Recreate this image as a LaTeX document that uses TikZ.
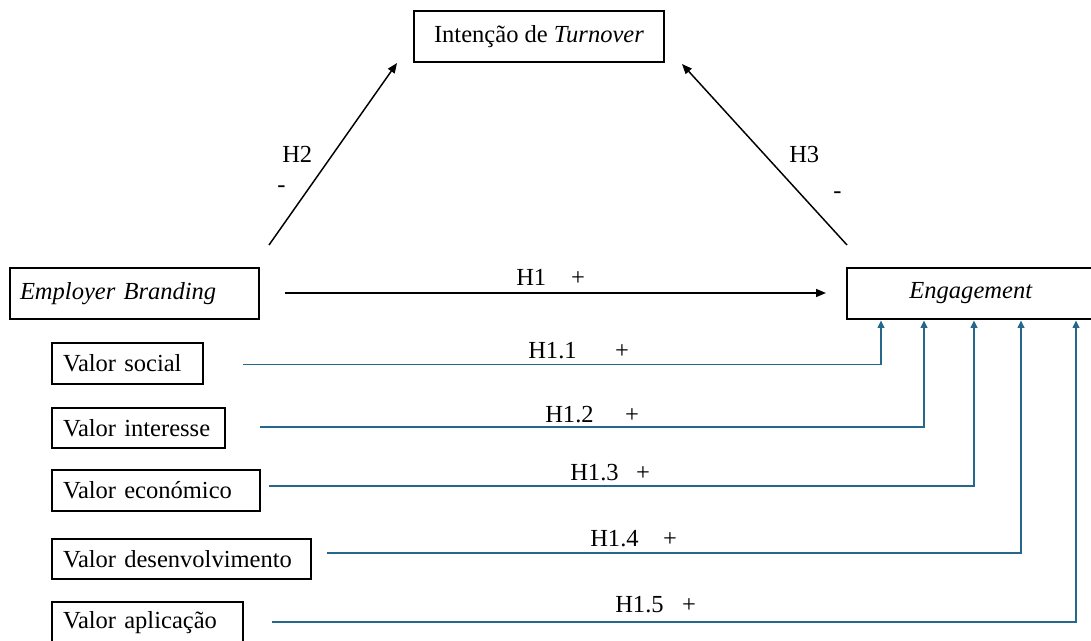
\documentclass[tikz,border=0pt]{standalone}
\usepackage{fontspec}
\setmainfont{Liberation Serif}
\usetikzlibrary{arrows.meta}
\definecolor{linkblue}{RGB}{37,104,140}
\tikzset{
  txt/.style={font=\fontsize{18.4}{22}\selectfont},
  box/.style={txt, draw=black, line width=1.3pt, inner ysep=0pt},
  lbox/.style={box, align=left, inner xsep={11*0.75pt}},
  lab/.style={txt, inner sep=0pt},
  blackarrow/.style={line width=1.1pt, -{Triangle[length=7.5pt,width=6pt]}},
  bluearrow/.style={draw=linkblue, line width=1.1pt, -{Triangle[length=5.5pt,width=5pt]}, color=linkblue},
}
\begin{document}
\begin{tikzpicture}[x=0.75pt, y=-0.75pt]
\useasboundingbox (0,0) rectangle (1091,641);
\clip (0,0) rectangle (1091,641);

% main boxes
\node[box, minimum width={250*0.75pt}, minimum height={51*0.75pt}] (T) at (539,36.5) {Intenção de \textit{Turnover}};
\node[box, align=left, inner xsep={10*0.75pt}, text width={229*0.75pt}, minimum height={51*0.75pt}] (EB) at (134.5,293.5) {\textit{Employer Branding}};
\node[box, minimum width={248*0.75pt}, minimum height={51*0.75pt}] (E) at (971,293.5) {\textit{Engagement}};

% value boxes
\node[lbox, text width={(151-22)*0.75pt}, minimum height={41*0.75pt}] (V1) at (127.5,363.5) {Valor social};
\node[lbox, text width={(173-22)*0.75pt}, minimum height={40*0.75pt}] (V2) at (138.5,428) {Valor interesse};
\node[lbox, text width={(208-22)*0.75pt}, minimum height={41*0.75pt}] (V3) at (156,490.5) {Valor económico};
\node[lbox, text width={(259-22)*0.75pt}, minimum height={40*0.75pt}] (V4) at (181.5,559) {Valor desenvolvimento};
\node[lbox, text width={(191-22)*0.75pt}, minimum height={41*0.75pt}] (V5) at (147.5,622.5) {Valor aplicação};

% connector end points
\coordinate (h2s) at (269,245);
\coordinate (h2e) at (397,63);
\coordinate (h3s) at (847,245);
\coordinate (h3e) at (682,64);
\coordinate (h1s) at (285,293);
\coordinate (h1e) at (826,293);
\coordinate (b1s) at (243,364.5);
\coordinate (b2s) at (260,427);
\coordinate (b3s) at (269,486);
\coordinate (b4s) at (327,553);
\coordinate (b5s) at (272,622);
\coordinate (b1e) at (881,320.5);
\coordinate (b2e) at (924,320.5);
\coordinate (b3e) at (974,320.5);
\coordinate (b4e) at (1021,320.5);
\coordinate (b5e) at (1076,320.5);

% black arrows
\draw[blackarrow] (h2s) -- (h2e);
\draw[blackarrow] (h3s) -- (h3e);
\draw[blackarrow] (h1s) -- (h1e);

% blue arrows
\draw[bluearrow] (b1s) -| (b1e);
\draw[bluearrow] (b2s) -| (b2e);
\draw[bluearrow] (b3s) -| (b3e);
\draw[bluearrow] (b4s) -| (b4e);
\draw[bluearrow] (b5s) -| (b5e);

% labels
\node[lab, anchor=base west] (lH2) at (282,163) {H2};
\node[lab, anchor=base west] (mH2) at (277,193) {-};
\node[lab, anchor=base west] (lH3) at (789,163) {H3};
\node[lab, anchor=base west] (mH3) at (833,199) {-};
\node[lab, anchor=base west] (lH1) at (516,286) {H1};
\node[lab, anchor=base] (pH1) at (578,286) {+};
\node[lab, anchor=base west] (lH11) at (528,358) {H1.1};
\node[lab, anchor=base] (pH11) at (622,358) {+};
\node[lab, anchor=base west] (lH12) at (545,422) {H1.2};
\node[lab, anchor=base] (pH12) at (632,422) {+};
\node[lab, anchor=base west] (lH13) at (570,480) {H1.3};
\node[lab, anchor=base] (pH13) at (643,480) {+};
\node[lab, anchor=base west] (lH14) at (590,546) {H1.4};
\node[lab, anchor=base] (pH14) at (670,546) {+};
\node[lab, anchor=base west] (lH15) at (615,612) {H1.5};
\node[lab, anchor=base] (pH15) at (689,612) {+};
\end{tikzpicture}
\end{document}
